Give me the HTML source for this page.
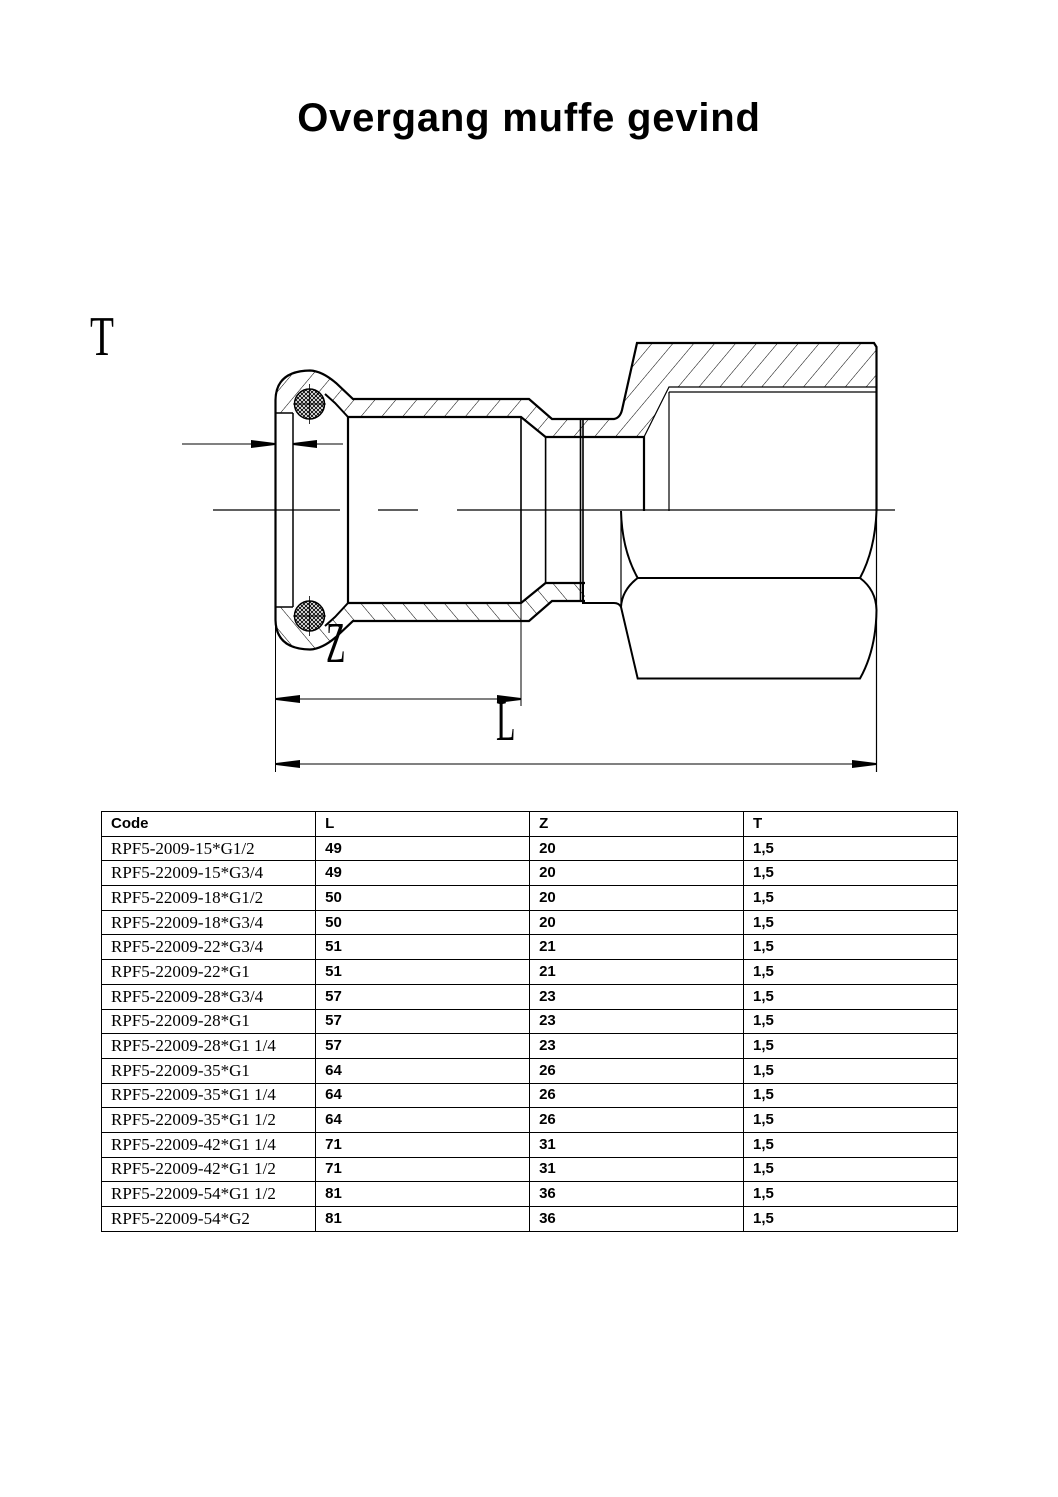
<!DOCTYPE html>
<html><head><meta charset="utf-8"><style>
html,body{margin:0;padding:0;background:#fff;}
body{width:1058px;height:1497px;position:relative;overflow:hidden;}
.title{position:absolute;left:0;width:1058px;top:96px;text-align:center;font:bold 40px "Liberation Sans",sans-serif;color:#000;letter-spacing:0.8px;}
table{position:absolute;left:101px;top:811px;border-collapse:collapse;width:857px;}
td{border:1.5px solid #000;height:23.7px;padding:0 0 0 9px;width:205px;font:bold 15px "Liberation Sans",sans-serif;vertical-align:middle;line-height:20px;}
td.c{font:17px "Liberation Serif",serif;padding-left:9px;}
tr.h td{font:bold 15px "Liberation Sans",sans-serif;}
svg{position:absolute;left:0;top:0;}
</style></head><body>
<div class="title">Overgang muffe gevind</div>
<svg width="1058" height="800" viewBox="0 0 1058 800">
<defs>
<pattern id="hat" patternUnits="userSpaceOnUse" width="16" height="16" patternTransform="rotate(40)">
<line x1="0" y1="0" x2="0" y2="16" stroke="#000" stroke-width="1"/></pattern>
<pattern id="xh" patternUnits="userSpaceOnUse" width="4" height="4">
<path d="M0 0L4 4M4 0L0 4" stroke="#000" stroke-width="0.9"/></pattern>
<marker id="ar" viewBox="0 0 24 8" refX="24" refY="4" markerWidth="24" markerHeight="8" markerUnits="userSpaceOnUse" orient="auto"><path d="M0 0L24 3L24 5L0 8Z" fill="#000"/></marker>
</defs>
<text x="90" y="355" font-family="Liberation Serif,serif" font-size="56" transform="translate(90 0) scale(0.7 1) translate(-90 0)">T</text>
<text x="326" y="662" font-family="Liberation Serif,serif" font-size="58" transform="translate(326 0) scale(0.55 1) translate(-326 0)">Z</text>
<text x="496" y="740" font-family="Liberation Serif,serif" font-size="58" transform="translate(496 0) scale(0.55 1) translate(-496 0)">L</text>

<g id="half" fill="none" stroke="#000">
<path d="M275.5 413 L275.5 400 Q276 371 310 370.5 Q322 371 336 383 L353 399 L529 399 L552 419 L614 419 L622 412 L637 343 L874 343 L876.5 347 L876.5 387 L669 387 L644 437 L545.6 437 L521 417 L348 417 L337 404 L325 395 L293 413 Z" fill="url(#hat)" stroke="none"/>
<path d="M275.5 510 L275.5 400 Q276 371 310 370.5 Q322 371 336 383 L353 399 L529 399 L552 419 L614 419 Q620 418 622 410 L637 343 L874 343 L876.5 347 L876.5 510" stroke-width="2.2"/>
<path d="M348 510 L348 417 L521 417 L545.6 437 L644 437 L644 510" stroke-width="2.2"/>
<path d="M348 417 L335 403 L325 394" stroke-width="2"/>
<path d="M521 417 L521 510 M545.6 437 L545.6 510 M580.5 419 L580.5 510 M583 419 L583 510" stroke-width="1.6"/>
<path d="M644 437 L669 387 L876.5 387 M669 392 L876.5 392 M669 392 L669 510" stroke-width="1.2"/>
<path d="M275.5 413 L293 413 M293 413 L293 510" stroke-width="1.5"/>
<circle cx="309.5" cy="404" r="15" fill="url(#xh)" stroke-width="1.5"/>
<path d="M293 404 L326 404 M309.5 384 L309.5 424" stroke-width="0.8"/>
</g>
<use href="#half" transform="translate(0 1020) scale(1 -1)"/>
<rect x="585" y="511" width="295" height="175" fill="#fff"/>
<g fill="none" stroke="#000" stroke-width="2">
<path d="M583 583 L583 603 L614 603 Q619 603 621 607"/>
<path d="M621 511 Q622 550 637.7 578 Q622 590 621 607 L637.7 678.5 L860 678.5 Q876 650 876.5 610 Q876 590 860 578 Q875 550 876.5 511"/>
<path d="M637.7 578 L860 578"/>
<path d="M876.5 511 L876.5 772 M621 511 L621 607" stroke-width="1.2"/>
</g>
<path d="M213 510 L340 510 M378 510 L418 510 M457 510 L895 510" stroke="#000" stroke-width="1.2"/>
<line x1="182" y1="444" x2="275" y2="444" stroke="#000" stroke-width="1" marker-end="url(#ar)"/>
<line x1="343" y1="444" x2="293" y2="444" stroke="#000" stroke-width="1" marker-end="url(#ar)"/>
<path d="M275.5 620 L275.5 772 M521 600 L521 706" stroke="#000" stroke-width="1"/>
<line x1="300" y1="699" x2="521" y2="699" stroke="#000" stroke-width="1" marker-end="url(#ar)"/>
<line x1="500" y1="699" x2="276" y2="699" stroke="#000" stroke-width="1" marker-end="url(#ar)"/>
<line x1="300" y1="764" x2="876" y2="764" stroke="#000" stroke-width="1" marker-end="url(#ar)"/>
<line x1="850" y1="764" x2="276" y2="764" stroke="#000" stroke-width="1" marker-end="url(#ar)"/>
</svg>
<table>
<tr class="h"><td>Code</td><td>L</td><td>Z</td><td>T</td></tr>
<tr><td class="c">RPF5-2009-15*G1/2</td><td>49</td><td>20</td><td>1,5</td></tr>
<tr><td class="c">RPF5-22009-15*G3/4</td><td>49</td><td>20</td><td>1,5</td></tr>
<tr><td class="c">RPF5-22009-18*G1/2</td><td>50</td><td>20</td><td>1,5</td></tr>
<tr><td class="c">RPF5-22009-18*G3/4</td><td>50</td><td>20</td><td>1,5</td></tr>
<tr><td class="c">RPF5-22009-22*G3/4</td><td>51</td><td>21</td><td>1,5</td></tr>
<tr><td class="c">RPF5-22009-22*G1</td><td>51</td><td>21</td><td>1,5</td></tr>
<tr><td class="c">RPF5-22009-28*G3/4</td><td>57</td><td>23</td><td>1,5</td></tr>
<tr><td class="c">RPF5-22009-28*G1</td><td>57</td><td>23</td><td>1,5</td></tr>
<tr><td class="c">RPF5-22009-28*G1 1/4</td><td>57</td><td>23</td><td>1,5</td></tr>
<tr><td class="c">RPF5-22009-35*G1</td><td>64</td><td>26</td><td>1,5</td></tr>
<tr><td class="c">RPF5-22009-35*G1 1/4</td><td>64</td><td>26</td><td>1,5</td></tr>
<tr><td class="c">RPF5-22009-35*G1 1/2</td><td>64</td><td>26</td><td>1,5</td></tr>
<tr><td class="c">RPF5-22009-42*G1 1/4</td><td>71</td><td>31</td><td>1,5</td></tr>
<tr><td class="c">RPF5-22009-42*G1 1/2</td><td>71</td><td>31</td><td>1,5</td></tr>
<tr><td class="c">RPF5-22009-54*G1 1/2</td><td>81</td><td>36</td><td>1,5</td></tr>
<tr><td class="c">RPF5-22009-54*G2</td><td>81</td><td>36</td><td>1,5</td></tr>
</table>
</body></html>
